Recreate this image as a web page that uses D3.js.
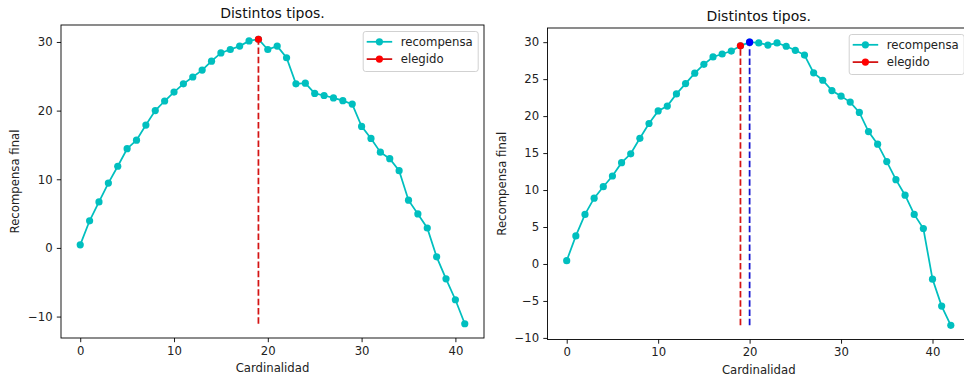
<!DOCTYPE html>
<html>
<head>
<meta charset="utf-8">
<script src="https://cdn.jsdelivr.net/npm/d3@7"></script>
<style>
  body { margin: 0; background: #fff; }
  svg { display: block; font-family: "DejaVu Sans", sans-serif; }
</style>
</head>
<body>
<script>
// datos
const titulo = "Distintos tipos.";
const etiquetaX = "Cardinalidad";
const etiquetaY = "Recompensa final";
const leyenda = ["recompensa", "elegido"];

const recompensaIzq = [0.45, 3.95, 6.7, 9.45, 11.9, 14.45, 15.7, 17.9, 20.0, 21.4,
  22.7, 23.9, 24.9, 25.9, 27.2, 28.4, 28.9, 29.4, 30.15, 30.4,
  28.9, 29.4, 27.7, 23.9, 24.0, 22.5, 22.2, 21.85, 21.45, 20.95,
  17.7, 15.95, 13.95, 13.0, 11.25, 6.95, 4.95, 2.9, -1.3, -4.5,
  -7.55, -11.05];
const recompensaDer = [0.45, 3.8, 6.7, 8.9, 10.45, 11.9, 13.7, 14.9, 17.0, 19.0,
  20.7, 21.35, 23.0, 24.4, 25.8, 27.0, 28.0, 28.4, 28.8, 29.5,
  30.0, 29.9, 29.6, 29.9, 29.45, 28.9, 28.25, 25.85, 24.85, 23.45,
  22.7, 21.9, 20.5, 17.9, 16.2, 13.85, 11.4, 9.3, 6.7, 4.8,
  -2.05, -5.7, -8.3];

const elegidosIzq = [19];
const elegidosDer = [19, 20];

const ticksX = [0, 10, 20, 30, 40];
const ticksYIzq = [-10, 0, 10, 20, 30];
const ticksYDer = [-10, -5, 0, 5, 10, 15, 20, 25, 30];

const cian = "#00bfbf";
const marcaColor = ["#ff0000", "#0000ff"];
const lineaColor = ["#d41414", "#1414d0"];
const fs = 11.7;

const svg = d3.select("body").append("svg")
  .attr("width", 964).attr("height", 378);

function panel(caja, valores, elegidos, ticksY) {
  const g = svg.append("g");
  const n = valores.length;
  const px = (n - 1) * 0.05;
  const x = d3.scaleLinear().domain([-px, n - 1 + px]).range([caja.left, caja.right]);
  const [ymin, ymax] = d3.extent(valores);
  const py = (ymax - ymin) * 0.05;
  const y = d3.scaleLinear().domain([ymin - py, ymax + py]).range([caja.bottom, caja.top]);

  // ejes
  const ax = g.append("g")
    .attr("transform", `translate(0,${caja.bottom})`)
    .call(d3.axisBottom(x).tickValues(ticksX).tickSize(4.2).tickPadding(4.2));
  const ay = g.append("g")
    .attr("transform", `translate(${caja.left},0)`)
    .call(d3.axisLeft(y).tickValues(ticksY).tickSize(4.2).tickPadding(4.2));
  [ax, ay].forEach(a => {
    a.select(".domain").remove();
    a.selectAll("line").attr("stroke", "#000").attr("stroke-width", 0.9);
    a.selectAll("text").attr("font-size", fs).attr("fill", "#222")
      .attr("font-family", "DejaVu Sans, sans-serif");
  });

  // serie
  g.append("path")
    .datum(valores)
    .attr("fill", "none")
    .attr("stroke", cian)
    .attr("stroke-width", 1.75)
    .attr("d", d3.line().x((d, i) => x(i)).y(d => y(d)));
  g.selectAll("circle.rec")
    .data(valores)
    .join("circle")
    .attr("class", "rec")
    .attr("cx", (d, i) => x(i))
    .attr("cy", d => y(d))
    .attr("r", 3.6)
    .attr("fill", cian);

  // elegidos
  elegidos.forEach((e, k) => {
    g.append("line")
      .attr("x1", x(e)).attr("x2", x(e))
      .attr("y1", y(ymin)).attr("y2", y(valores[e]))
      .attr("stroke", lineaColor[k])
      .attr("stroke-width", 1.75)
      .attr("stroke-dasharray", "6.5,2.8");
  });
  elegidos.forEach((e, k) => {
    g.append("circle")
      .attr("cx", x(e)).attr("cy", y(valores[e]))
      .attr("r", 3.6)
      .attr("fill", marcaColor[k]);
  });

  // marco
  g.append("rect")
    .attr("x", caja.left).attr("y", caja.top)
    .attr("width", caja.right - caja.left)
    .attr("height", caja.bottom - caja.top)
    .attr("fill", "none")
    .attr("stroke", "#000")
    .attr("stroke-width", 0.9);

  // textos
  g.append("text")
    .attr("x", (caja.left + caja.right) / 2)
    .attr("y", caja.top - 7)
    .attr("text-anchor", "middle")
    .attr("font-size", 14)
    .attr("fill", "#111")
    .text(titulo);
  g.append("text")
    .attr("x", (caja.left + caja.right) / 2)
    .attr("y", caja.bottom + 30)
    .attr("dy", "0.35em")
    .attr("text-anchor", "middle")
    .attr("font-size", fs)
    .attr("fill", "#222")
    .text(etiquetaX);
  g.append("text")
    .attr("transform", `translate(${caja.left - 46},${(caja.top + caja.bottom) / 2}) rotate(-90)`)
    .attr("dy", "0.35em")
    .attr("text-anchor", "middle")
    .attr("font-size", fs)
    .attr("fill", "#222")
    .text(etiquetaY);

  // leyenda
  const lx = caja.right - 5.8 - 115, ly = caja.top + 6.5;
  const lg = g.append("g").attr("transform", `translate(${lx},${ly})`);
  lg.append("rect")
    .attr("width", 115).attr("height", 40).attr("rx", 2.5)
    .attr("fill", "#fff").attr("fill-opacity", 0.8)
    .attr("stroke", "#cccccc").attr("stroke-width", 0.9);
  const colores = [[cian, cian], [lineaColor[0], marcaColor[0]]];
  leyenda.forEach((t, i) => {
    const yy = 10.3 + i * 17.3;
    lg.append("line")
      .attr("x1", 3.5).attr("x2", 29).attr("y1", yy).attr("y2", yy)
      .attr("stroke", colores[i][0]).attr("stroke-width", 1.75);
    lg.append("circle")
      .attr("cx", 16.2).attr("cy", yy).attr("r", 3.6)
      .attr("fill", colores[i][1]);
    lg.append("text")
      .attr("x", 37.5).attr("y", yy).attr("dy", "0.35em")
      .attr("font-size", fs).attr("fill", "#222")
      .text(t);
  });
}

panel({ left: 61, right: 484, top: 25, bottom: 338 }, recompensaIzq, elegidosIzq, ticksYIzq);
panel({ left: 547.5, right: 970, top: 28, bottom: 339.5 }, recompensaDer, elegidosDer, ticksYDer);
</script>
</body>
</html>
